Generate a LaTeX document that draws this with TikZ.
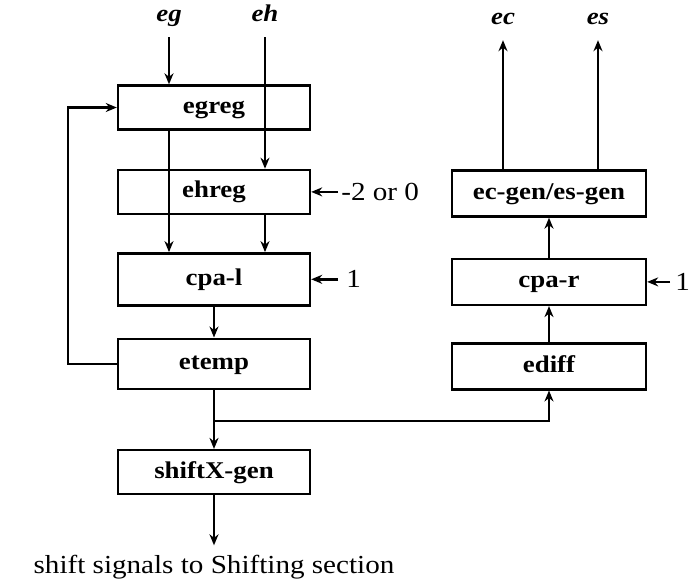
\documentclass[tikz,border=0pt]{standalone}
\usepackage{fontspec}
\setmainfont{Liberation Serif}[FakeStretch=1.12]
\usepackage{tikz}
\usetikzlibrary{positioning, arrows.meta}

\begin{document}
\begin{tikzpicture}[
                x=1pt, y=1pt,
                >={Stealth[length=11pt, width=9pt]},
                sig/.style={->, line width=2.4pt},
                block/.style={rectangle, draw, line width=2.4pt, minimum width=192pt, minimum height=44pt, inner sep=0pt, text height=16pt, text depth=4pt, font=\fontsize{24}{28}\selectfont\bfseries},
                wide/.style={block, minimum width=194pt, minimum height=46pt},
                port/.style={inner xsep=1pt, inner ysep=11pt, text height=11pt, text depth=5pt, font=\fontsize{24}{28}\selectfont\bfseries\itshape},
                note/.style={inner sep=3pt, font=\fontsize{26}{30}\selectfont}
            ]
                \useasboundingbox (0,0) rectangle (689,-579);

                % Left column
                \node[block] (egreg) at (214,-107.5) {egreg};
                \node[block, below=38pt of egreg] (ehreg) {ehreg};
                \node[block, below=37pt of ehreg, minimum height=52pt] (cpal) {cpa-l};
                \node[block, below=31pt of cpal, minimum height=50pt] (etemp) {etemp};
                \node[block, below=59pt of etemp] (shiftx) {shiftX-gen};
                \node[note, below=50pt of shiftx, inner ysep=10pt] (out) {shift signals to Shifting section};

                % Right column
                \node[wide] (ecgen) at (549,-193.5) {ec-gen/es-gen};
                \node[wide, below=40pt of ecgen] (cpar) {cpa-r};
                \node[wide, below=36pt of cpar] (ediff) {ediff};

                % Inputs and outputs
                \node[port] (eg) at (169,-18) {eg};
                \node[port] (eh) at (265,-18) {eh};
                \node[port] (ec) at (503,-21) {ec};
                \node[port] (es) at (598,-21) {es};
                \node[note, right=27pt of ehreg] (mtwo) {-2 or 0};
                \node[note, right=27pt of cpal, inner xsep=8pt] (onel) {1};
                \node[note, right=23pt of cpar, inner xsep=5pt] (oner) {1};

                % Path connections
                \draw[sig] (eg.south) -- (eg.south |- egreg.north);
                \draw[sig] (eh.south) -- (eh.south |- ehreg.north);
                \draw[sig] (egreg.south -| eg) -- (cpal.north -| eg);
                \draw[sig] (ehreg.south -| eh) -- (cpal.north -| eh);
                \draw[sig] (cpal) -- (etemp);
                \draw[sig] (etemp) -- (shiftx);
                \draw[sig] (shiftx) -- (out);
                \draw[sig] (mtwo) -- (ehreg);
                \draw[sig] (onel) -- (cpal);
                \draw[sig] (oner) -- (cpar);

                % Feedback loop
                \draw[sig] (etemp.west) -- ++(-49,0) |- (egreg.west);

                % Branch to the right side
                \coordinate (split) at ([yshift=-31pt]etemp.south);
                \draw[sig] (split) -| (ediff.south);
                \draw[sig] (ediff) -- (cpar);
                \draw[sig] (cpar) -- (ecgen);
                \draw[sig] (ecgen.north -| ec) -- (ec.south);
                \draw[sig] (ecgen.north -| es) -- (es.south);
            \end{tikzpicture}
\end{document}
